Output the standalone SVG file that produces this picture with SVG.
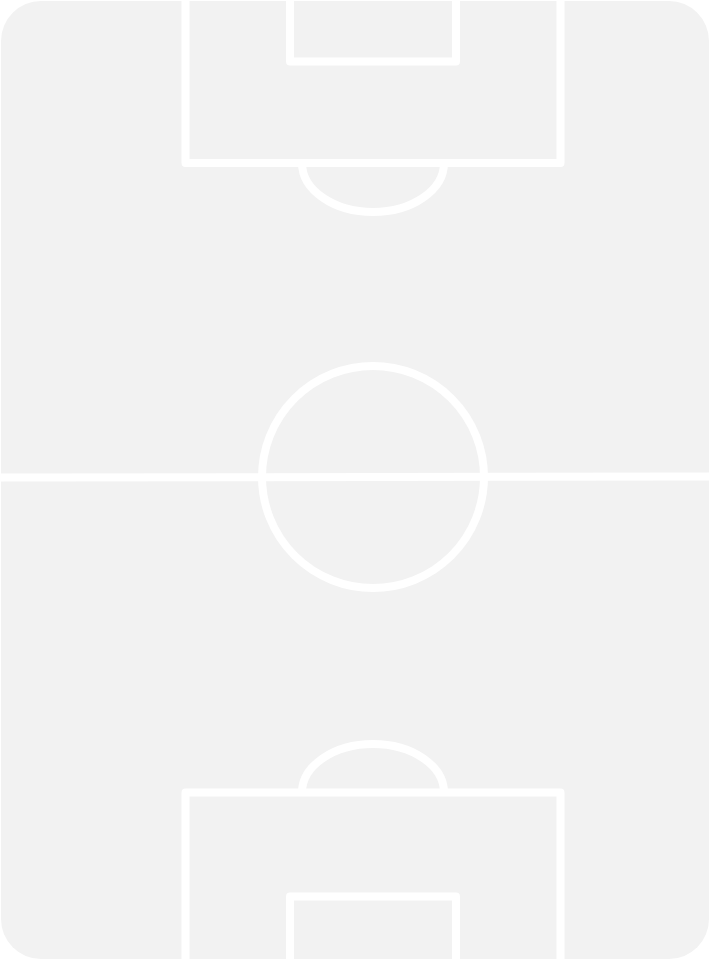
<svg xmlns="http://www.w3.org/2000/svg" width="710" height="960" viewBox="0 0 710 960">
  <style>
    .line { fill: none; stroke: #ffffff; stroke-width: 8; stroke-linejoin: round; }
  </style>
  <rect width="710" height="960" fill="#ffffff"/>
  <g id="pitch">
    <rect x="1" y="1" width="708" height="958" rx="40" ry="40" fill="#f2f2f2"/>
  </g>
  <g id="halfway-line">
    <path class="line" d="M0,477.5 L710,476.5"/>
  </g>
  <g id="centre-circle">
    <circle class="line" cx="373" cy="477" r="111"/>
  </g>
  <g id="top-penalty-area">
    <path class="line" d="M185.5,-10 L185.5,163 L560.5,163 L560.5,-10"/>
  </g>
  <g id="top-goal-area">
    <path class="line" d="M290,-10 L290,61.5 L456,61.5 L456,-10"/>
  </g>
  <g id="top-penalty-arc">
    <path class="line" d="M302,163 A71,49 0 0 0 444,163"/>
  </g>
  <g id="bottom-penalty-area">
    <path class="line" d="M185.5,970 L185.5,792.5 L560.5,792.5 L560.5,970"/>
  </g>
  <g id="bottom-goal-area">
    <path class="line" d="M290,970 L290,896.5 L456,896.5 L456,970"/>
  </g>
  <g id="bottom-penalty-arc">
    <path class="line" d="M302,792.5 A71,48.5 0 0 1 444,792.5"/>
  </g>
</svg>
